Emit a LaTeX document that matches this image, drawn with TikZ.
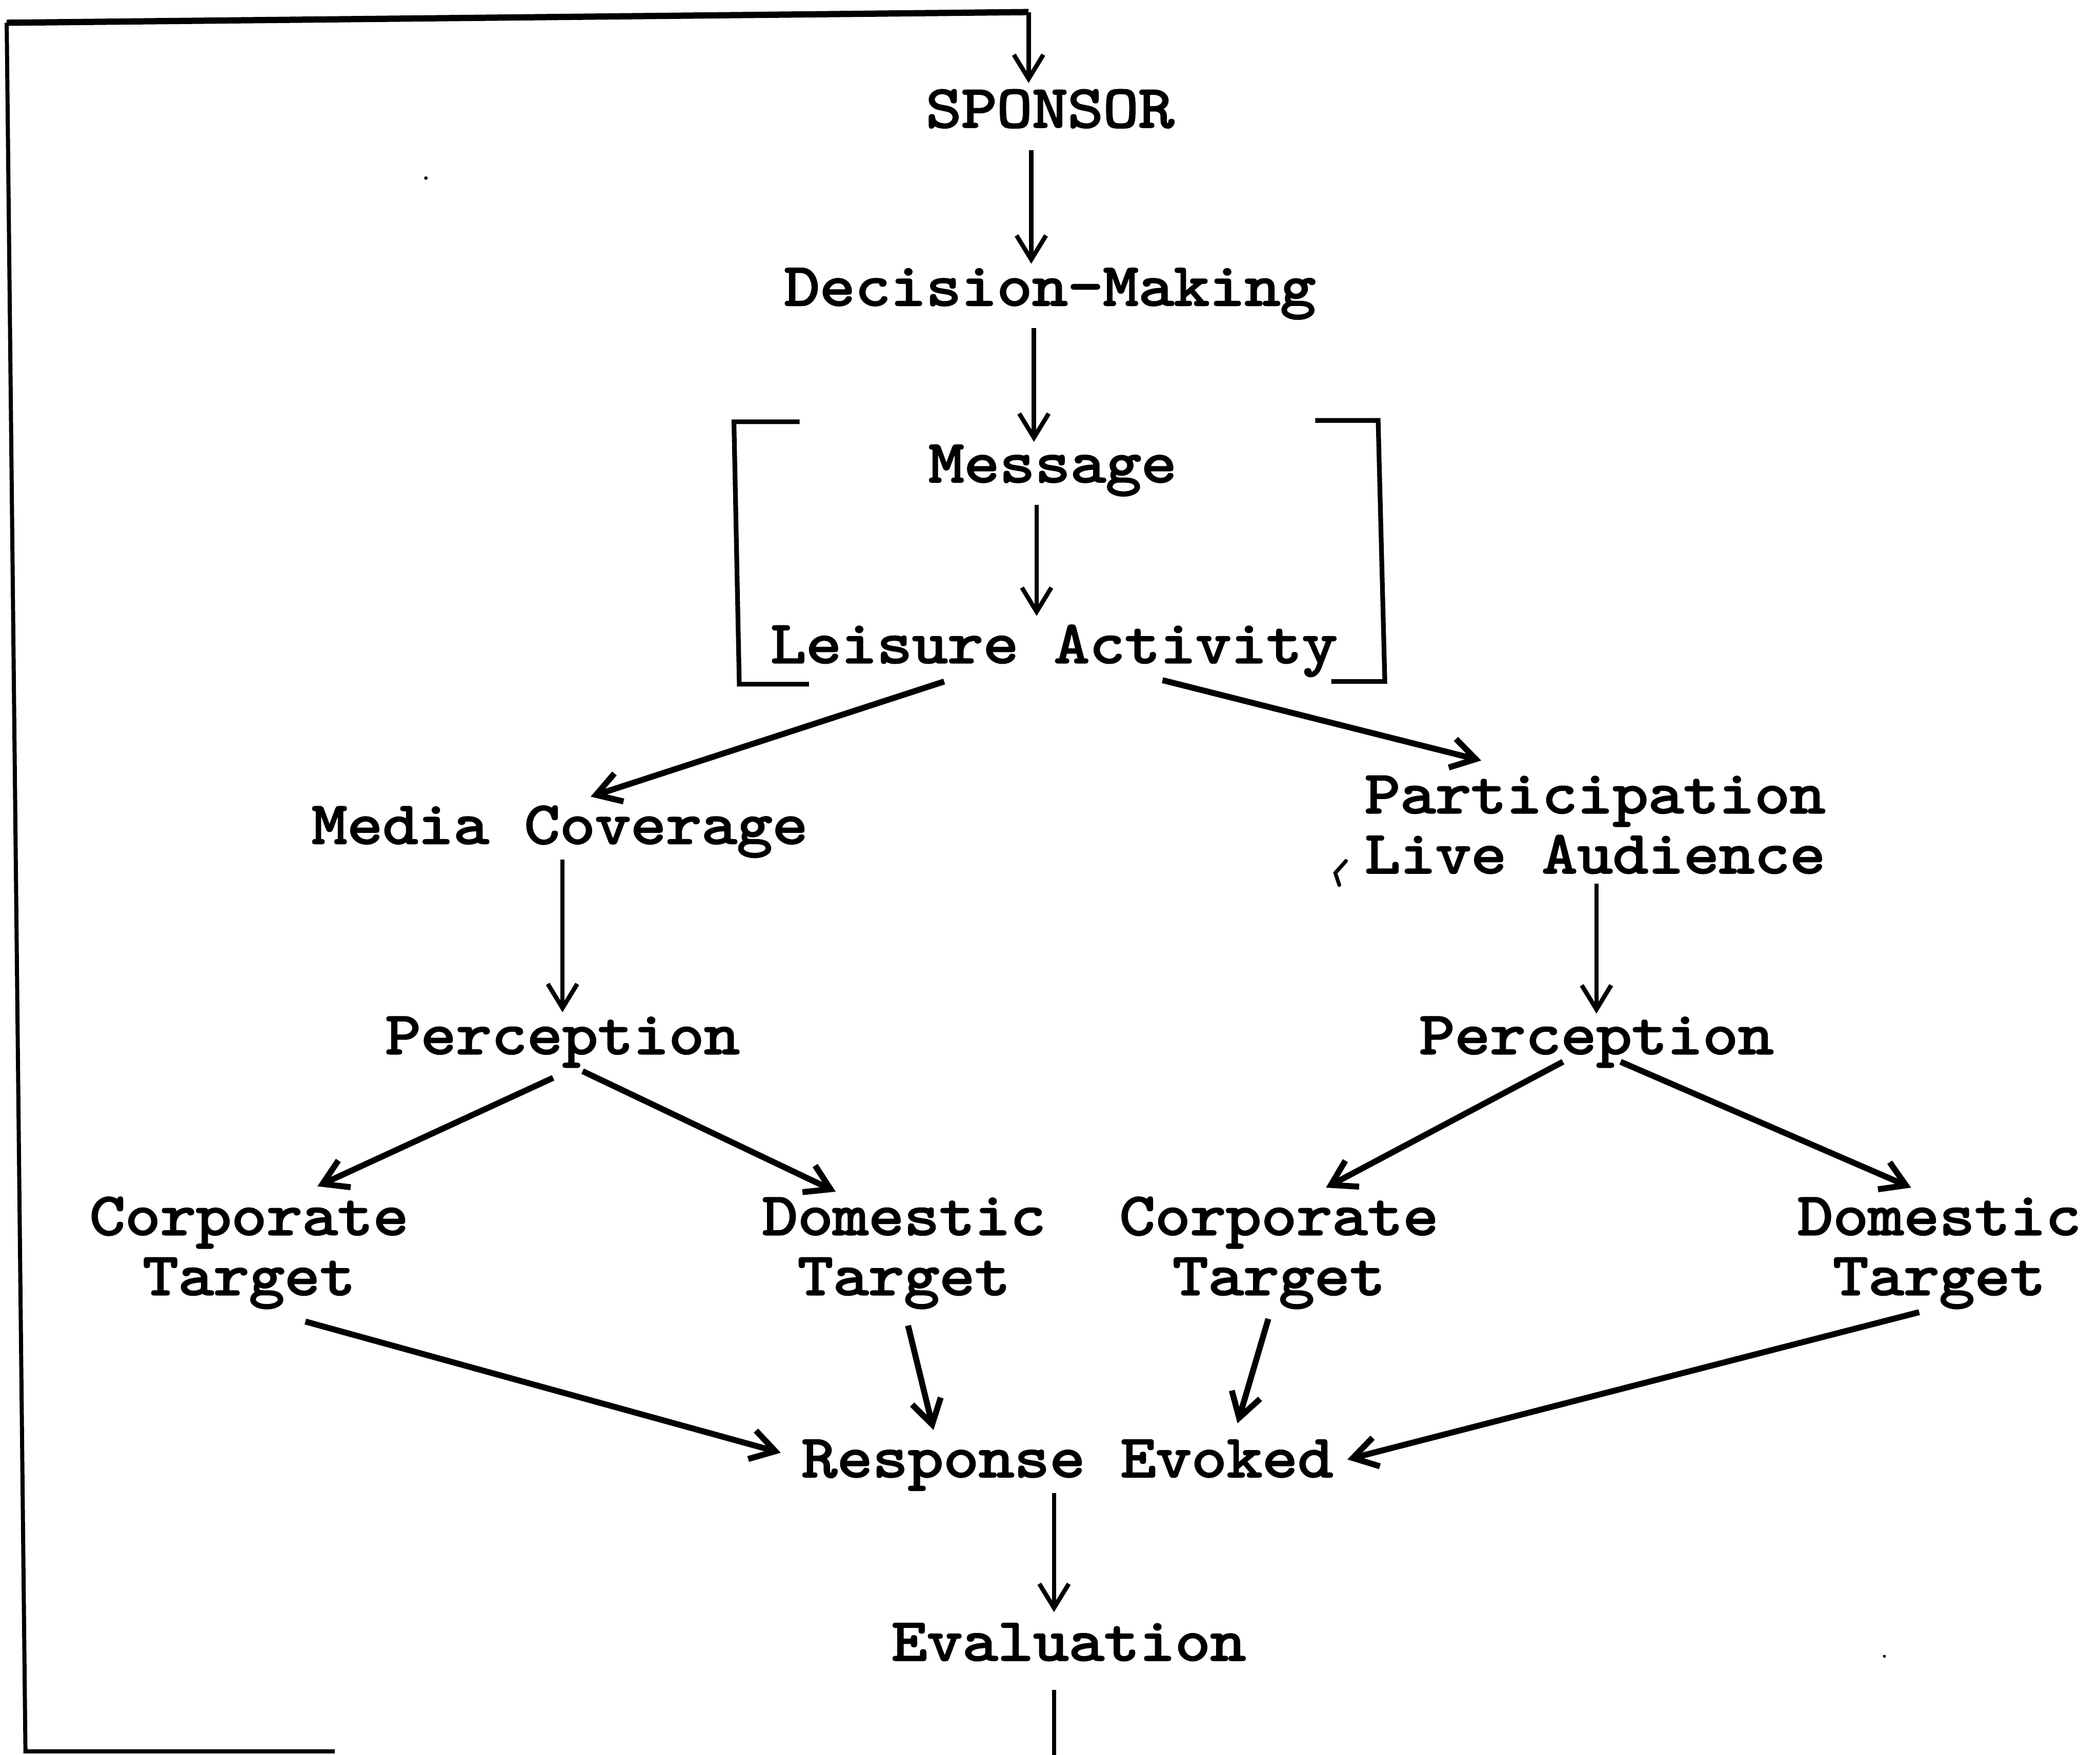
\documentclass[tikz,border=0pt]{standalone}
\usepackage{fontspec}
\newfontfamily\twfont[FakeBold=2.8,FakeStretch=1.12]{lmmono10-regular.otf}
\usetikzlibrary{arrows.meta}
\begin{document}
\begin{tikzpicture}[x=0.03cm,y=-0.03cm,
  lbl/.style={font=\twfont\fontsize{38.4pt}{38.3pt}\selectfont, inner sep=0pt, anchor=base, align=center},
  tipx/.style={-{Straight Barb[length=0.54cm,width=0.66cm]}},
  vline/.style={line width=2.8pt, tipx},
  dline/.style={line width=3.8pt, tipx},
  loopline/.style={line width=4pt, line join=round},
  brk/.style={line width=3pt, line join=miter}]
\useasboundingbox (0,0) rectangle (1568,1310.4);
\fill[white] (0,0) rectangle (1568,1310.4);

% nodes (base = baseline of the last line)
\node[lbl] (spon)  at (784,95)   {SPONSOR};
\node[lbl] (dec)   at (784,228)  {Decision-Making};
\node[lbl] (msg)   at (786,360)  {Message};
\node[lbl] (lei)   at (787,495)  {Leisure Activity};
\node[lbl] (media) at (418,630)  {Media Coverage};
\node[lbl] (part)  at (1191,652) {Participation\\Live Audience};
\node[lbl] (perL)  at (420,787)  {Perception};
\node[lbl] (perR)  at (1192,787) {Perception};
\node[lbl] (corpL) at (186,967)  {Corporate\\Target};
\node[lbl] (domL)  at (675,967)  {Domestic\\Target};
\node[lbl] (corpR) at (955,967)  {Corporate\\Target};
\node[lbl] (domR)  at (1448,967) {Domestic\\Target};
\node[lbl] (resp)  at (797,1103) {Response Evoked};
\node[lbl] (eval)  at (798,1240) {Evaluation};

% brackets around Message / Leisure Activity
\draw[brk] (597,315) -- (548,315) -- (552,511) -- (604,511);
\draw[brk] (982,314) -- (1029,314) -- (1034,509) -- (994,509);

% feedback loop
\coordinate (cbr) at (250,1308);
\coordinate (cbl) at (19,1308);
\coordinate (ctl) at (5,17);
\coordinate (ctr) at (768,9);
\draw[line width=2.6pt] (cbr) -- (cbl) -- (ctl);
\draw[loopline] (ctl) -- (ctr);
\draw[vline] (ctr) -- ([shift={(-16,-33)}]spon.base);
\draw[line width=2.8pt] ([shift={(-11,22)}]eval.base) -- ++(0,52);

% vertical chain
\draw[vline] ([shift={(-14,17)}]spon.base) -- ([shift={(-14,-31)}]dec.base);
\draw[vline] ([shift={(-12,17)}]dec.base) -- ([shift={(-14,-30)}]msg.base);
\draw[vline] ([shift={(-12,17)}]msg.base) -- ([shift={(-13,-35)}]lei.base);

% split
\draw[dline] ([shift={(-82,14)}]lei.base) -- ([shift={(23,-35)}]media.base);
\draw[dline] ([shift={(81,13)}]lei.base) -- ([shift={(-85,-84)}]part.base);

\draw[vline] ([shift={(2,12)}]media.base) -- ([shift={(0,-31)}]perL.base);
\draw[vline] ([shift={(1,8)}]part.base) -- ([shift={(0,-30)}]perR.base);

\draw[dline] ([shift={(-7,18)}]perL.base) -- ([shift={(51,-81)}]corpL.base);
\draw[dline] ([shift={(15,13)}]perL.base) -- ([shift={(-51,-77)}]domL.base);
\draw[dline] ([shift={(-25,6)}]perR.base) -- ([shift={(35,-80)}]corpR.base);
\draw[dline] ([shift={(18,6)}]perR.base) -- ([shift={(-21,-80)}]domR.base);

\draw[dline] ([shift={(42,20)}]corpL.base) -- ([shift={(-214,-18)}]resp.base);
\draw[dline] ([shift={(3,23)}]domL.base) -- ([shift={(-100,-35)}]resp.base);
\draw[dline] ([shift={(-8,18)}]corpR.base) -- ([shift={(127,-40)}]resp.base);
\draw[dline] ([shift={(-15,13)}]domR.base) -- ([shift={(209,-13)}]resp.base);

\draw[vline] ([shift={(-10,12)}]resp.base) -- ([shift={(-11,-36)}]eval.base);

% small marks of the original
\draw[line width=2.4pt, line cap=round] (1005,643) -- (997,652) -- (1000,661);
\fill (318,133) circle (1.3);
\fill (1407,1237) circle (1.1);
\end{tikzpicture}
\end{document}
